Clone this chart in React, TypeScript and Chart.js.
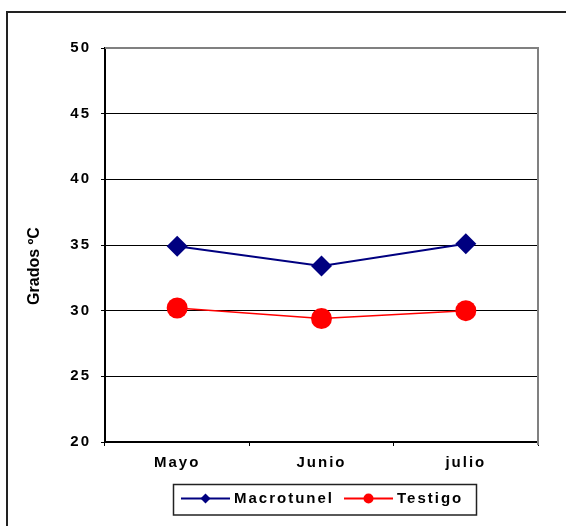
import { useEffect, useRef } from "react";
import { Chart, registerables } from "chart.js";

Chart.register(...registerables);

// Monthly temperatures (ºC)
const months = ["Mayo", "Junio", "julio"];
const macrotunel = [34.9, 33.4, 35.1];
const testigo = [30.2, 29.4, 30.0];
const seriesNames = ["Macrotunel", "Testigo"];
const yAxisTitle = "Grados ºC";
const yMin = 20;
const yMax = 50;
const yStep = 5;

const FONT = "Arial, 'Liberation Sans', sans-serif";

// Draws the outer frame, the grey plot box edges, the rotated axis title and a boxed legend
const decorations = {
  id: "decorations",
  beforeDraw(chart: any) {
    chart.ctx.letterSpacing = "2px";
  },
  afterDraw(chart: any) {
    const { ctx, chartArea: a } = chart;
    ctx.save();

    // outer frame (left and top edges)
    ctx.letterSpacing = "0px";
    ctx.strokeStyle = "#222";
    ctx.lineWidth = 2;
    ctx.beginPath();
    ctx.moveTo(7, 526);
    ctx.lineTo(7, 12);
    ctx.lineTo(566, 12);
    ctx.stroke();

    // plot box top and right edges
    ctx.strokeStyle = "#808080";
    ctx.lineWidth = 2;
    ctx.beginPath();
    ctx.moveTo(a.left, a.top);
    ctx.lineTo(a.right, a.top);
    ctx.lineTo(a.right, a.bottom + 3);
    ctx.stroke();

    // y axis title
    ctx.save();
    ctx.translate(35, 266);
    ctx.rotate(-Math.PI / 2);
    ctx.fillStyle = "#000";
    ctx.font = `bold 16px ${FONT}`;
    ctx.textAlign = "center";
    ctx.textBaseline = "middle";
    ctx.fillText(yAxisTitle, 0, 0);
    ctx.restore();

    // legend
    const boxL = 173.5, boxT = 484.5, boxW = 303, boxH = 30.5;
    ctx.strokeStyle = "#222";
    ctx.lineWidth = 1.5;
    ctx.strokeRect(boxL, boxT, boxW, boxH);
    const cy = boxT + 14;
    let x = 181;
    ctx.font = `bold 15px ${FONT}`;
    ctx.letterSpacing = "2px";
    ctx.textAlign = "left";
    ctx.textBaseline = "middle";
    chart.data.datasets.forEach((ds: any) => {
      const lineLen = 49;
      ctx.strokeStyle = ds.borderColor;
      ctx.lineWidth = 2;
      ctx.beginPath();
      ctx.moveTo(x, cy);
      ctx.lineTo(x + lineLen, cy);
      ctx.stroke();
      const mx = x + lineLen / 2;
      ctx.fillStyle = ds.pointBackgroundColor;
      ctx.beginPath();
      if (ds.pointStyle === "rectRot") {
        const r = 5;
        ctx.moveTo(mx, cy - r);
        ctx.lineTo(mx + r, cy);
        ctx.lineTo(mx, cy + r);
        ctx.lineTo(mx - r, cy);
        ctx.closePath();
      } else {
        ctx.arc(mx, cy, 5, 0, Math.PI * 2);
      }
      ctx.fill();
      ctx.fillStyle = "#000";
      const tx = x + lineLen + 4;
      ctx.fillText(ds.label, tx, cy);
      x = tx + ctx.measureText(ds.label).width + 10;
    });

    ctx.restore();
  },
};

export default function App() {
  const canvasRef = useRef<HTMLCanvasElement | null>(null);

  useEffect(() => {
    if (!canvasRef.current) return;
    const chart = new Chart(canvasRef.current, {
      type: "line",
      data: {
        labels: months,
        datasets: [
          {
            label: seriesNames[0],
            data: macrotunel,
            borderColor: "#000080",
            backgroundColor: "#000080",
            pointBackgroundColor: "#000080",
            pointBorderColor: "#000080",
            borderWidth: 2,
            pointStyle: "rectRot",
            pointRadius: 10.5,
            pointBorderWidth: 0,
            tension: 0,
          },
          {
            label: seriesNames[1],
            data: testigo,
            borderColor: "#FF0000",
            backgroundColor: "#FF0000",
            pointBackgroundColor: "#FF0000",
            pointBorderColor: "#FF0000",
            borderWidth: 1.5,
            pointStyle: "circle",
            pointRadius: 10.5,
            pointBorderWidth: 0,
            tension: 0,
          },
        ],
      },
      options: {
        responsive: false,
        animation: false,
        devicePixelRatio: 1,
        layout: { padding: { top: 48, right: 28, left: 0, bottom: 0 } },
        plugins: {
          legend: { display: false },
          tooltip: { enabled: false },
        },
        scales: {
          x: {
            type: "category",
            offset: true,
            ticks: {
              color: "#000",
              font: { family: FONT, size: 15, weight: "bold" },
              padding: 8,
            },
            grid: {
              drawOnChartArea: false,
              drawTicks: true,
              tickLength: 4,
              tickColor: "#000",
              offset: true,
            },
            border: { color: "#000", width: 2 },
            afterFit(scale: any) {
              scale.height = 84;
            },
          },
          y: {
            type: "linear",
            min: yMin,
            max: yMax,
            ticks: {
              stepSize: yStep,
              color: "#000",
              font: { family: FONT, size: 15, weight: "bold" },
              padding: 10,
            },
            grid: {
              color: (c: any) => (c.tick && c.tick.value === yMax ? "#808080" : "#000"),
              lineWidth: 1,
              tickLength: 4,
              tickColor: "#000",
            },
            border: { color: "#000", width: 2 },
            afterFit(scale: any) {
              scale.width = 105;
            },
          },
        },
      },
      plugins: [decorations],
    });
    return () => chart.destroy();
  }, []);

  return (
    <div style={{ position: "absolute", left: 0, top: 0, width: 566, height: 526, background: "#fff" }}>
      <canvas ref={canvasRef} width={566} height={526} style={{ display: "block" }} />
    </div>
  );
}
